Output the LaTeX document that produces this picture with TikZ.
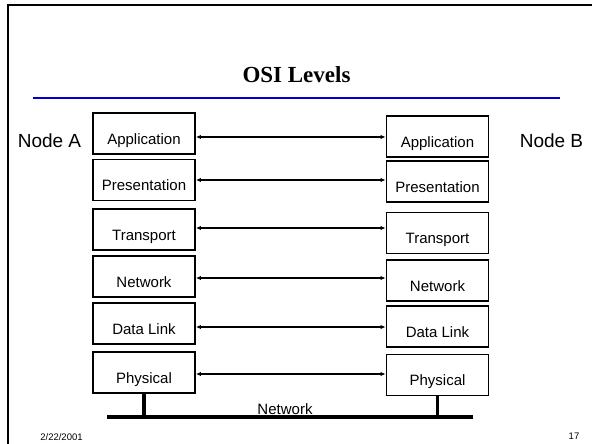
\documentclass[tikz,border=0pt]{standalone}
\usepackage{fontspec}
\setmainfont{Liberation Sans}
\newfontfamily\titlefont{Liberation Serif}
\usetikzlibrary{arrows.meta}

\begin{document}
\begin{tikzpicture}[x=1pt, y=-1pt,
    layer/.style={draw, line width=1.9pt, minimum width=102pt, minimum height=41pt,
        inner sep=0pt, font=\fontsize{15}{15}\selectfont, text height=21pt, text depth=0pt},
    peer/.style={line width=1.5pt, {Latex[length=5pt,width=4.5pt]}-{Latex[length=5pt,width=4.5pt]}},
    bus/.style={line width=3.5pt}]
        \useasboundingbox (0,0) rectangle (592,444);

        % Slide frame and rule under the title
        \draw[line width=2pt] (8,444) -- (8,5) -- (592,5);
        \draw[line width=2pt, blue!80!black] (33,98) -- (560,98);

        % Title
        \node[anchor=base, font=\titlefont\bfseries\fontsize{23}{23}\selectfont] (title) at (296.5,83) {OSI Levels};

        % Host names
        \node[anchor=base, font=\fontsize{19}{19}\selectfont] (nodeA) at (49.5,147) {Node A};
        \node[anchor=base, font=\fontsize{19}{19}\selectfont] (nodeB) at (551.5,147) {Node B};

        % Both protocol stacks with peer links
        \foreach \name/\txt/\ly/\ry/\ay in {app/Application/133.5/136.5/137,
                pres/Presentation/180/181.5/180,
                trans/Transport/229.5/233/228,
                net/Network/276.5/280.5/278,
                link/Data Link/323.5/326.5/327,
                phys/Physical/372.5/375/374} {
            \node[layer] (A\name) at (144,\ly) {\txt};
            \node[layer] (B\name) at (437.5,\ry) {\txt};
            \draw[peer] (A\name.east |- 0,\ay) -- (B\name.west |- 0,\ay);
        }

        % Physical medium
        \coordinate (busL) at (107,417);
        \coordinate (busR) at (473,417);
        \draw[bus] (busL) -- (busR);
        \draw[bus] (Aphys.south) -- (Aphys.south |- busL);
        \draw[bus] (Bphys.south) -- (Bphys.south |- busR);
        \node[anchor=base, font=\fontsize{15}{15}\selectfont] (medium) at (285,414) {Network};

        % Footer
        \node[anchor=base, font=\fontsize{9.5}{9.5}\selectfont] (date) at (61.5,440.5) {2/22/2001};
        \node[anchor=base, font=\fontsize{9.5}{9.5}\selectfont] (page) at (574,439.5) {17};
\end{tikzpicture}
\end{document}
